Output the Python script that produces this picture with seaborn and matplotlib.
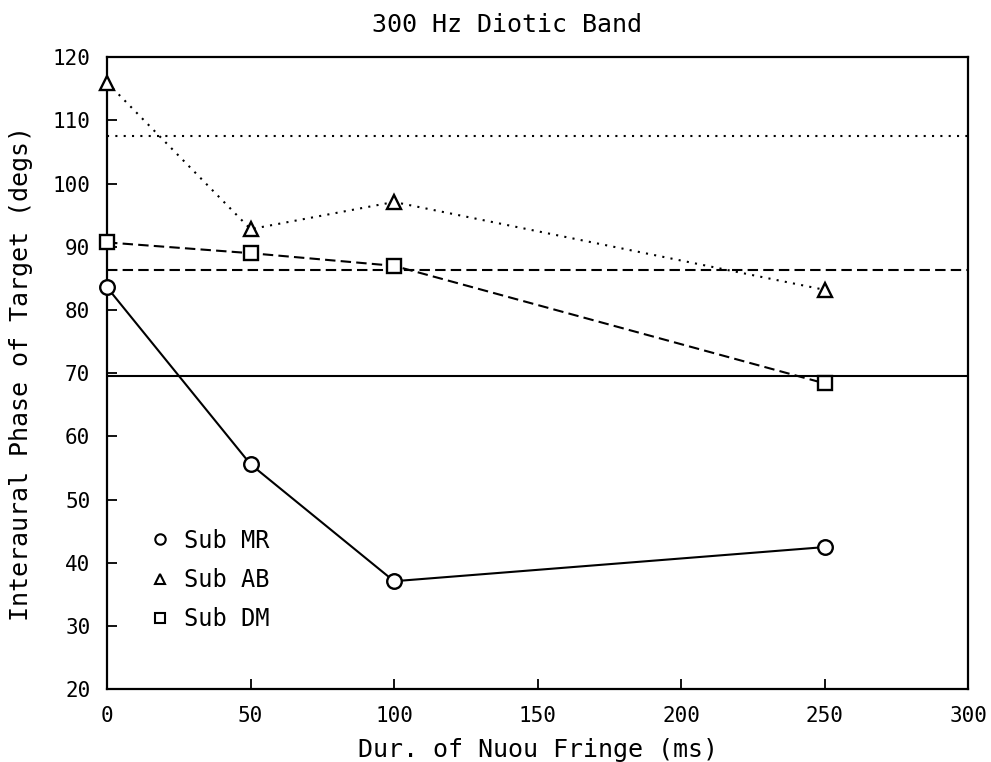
import matplotlib

matplotlib.use("Agg")

import matplotlib.pyplot as plt
import pandas as pd
import seaborn as sns
from matplotlib.lines import Line2D

# values
durations = [0, 50, 100, 250]
subjects = ["Sub MR", "Sub AB", "Sub DM"]
phase_mr = [83.6, 55.6, 37.1, 42.5]
phase_ab = [116.0, 92.8, 97.1, 83.2]
phase_dm = [90.7, 89.0, 87.0, 68.4]
# horizontal reference level per subject
baseline = [69.5, 107.6, 86.3]

x_ticks = [0, 50, 100, 150, 200, 250, 300]
y_ticks = [20, 30, 40, 50, 60, 70, 80, 90, 100, 110, 120]

markers = {"Sub MR": "o", "Sub AB": "^", "Sub DM": "s"}
dashes = {"Sub MR": "", "Sub AB": (1, 3), "Sub DM": (5, 2.5)}
line_styles = {"Sub MR": "-", "Sub AB": (0, (1, 3)), "Sub DM": (0, (5, 2.5))}

sns.set_theme(style="white")
plt.rcParams["font.family"] = ["DejaVu Sans Mono", "DejaVu Sans"]
plt.rcParams["text.color"] = "black"

df = pd.DataFrame(
    {
        "duration": durations * 3,
        "phase": phase_mr + phase_ab + phase_dm,
        "subject": [s for s in subjects for _ in durations],
    }
)

fig = plt.figure(figsize=(9.91, 7.62), dpi=100)
ax = fig.add_axes([0.108, 0.0954, 0.869, 0.8295])

for subj, level in zip(subjects, baseline):
    ax.axhline(level, color="black", lw=1.5, ls=line_styles[subj], zorder=1)

sns.lineplot(
    data=df,
    x="duration",
    y="phase",
    style="subject",
    markers=markers,
    dashes=dashes,
    color="black",
    linewidth=1.5,
    markersize=10.5,
    markerfacecolor="white",
    markeredgecolor="black",
    markeredgewidth=1.7,
    clip_on=False,
    legend=False,
    ax=ax,
    zorder=3,
)

ax.set_xlim(0, 300)
ax.set_ylim(20, 120)
ax.set_xticks(x_ticks)
ax.set_yticks(y_ticks)
ax.tick_params(direction="in", length=7, width=1.3, labelsize=15, pad=12,
               colors="black", top=False, right=False, left=True, bottom=True)
for side in ax.spines.values():
    side.set_visible(True)
    side.set_color("black")
    side.set_linewidth(1.6)

ax.set_xlabel("Dur. of Nuou Fringe (ms)", fontsize=18, labelpad=9, color="black")
ax.set_ylabel("Interaural Phase of Target (degs)", fontsize=18, labelpad=14, color="black")
ax.set_title("300 Hz Diotic Band", fontsize=18, x=0.465, pad=18, color="black")

handles = [
    Line2D([], [], marker=markers[s], ls="none", color="black", markerfacecolor="white",
           markeredgewidth=1.5, markersize=7.5)
    for s in subjects
]
ax.legend(handles, subjects, loc="upper left", bbox_to_anchor=(0.048, 0.254),
          frameon=False, fontsize=17, labelcolor="black", labelspacing=0.65,
          handlelength=1.0, handletextpad=0.5, borderaxespad=0, borderpad=0)

fig.savefig("out.png", dpi=100)
plt.close(fig)
